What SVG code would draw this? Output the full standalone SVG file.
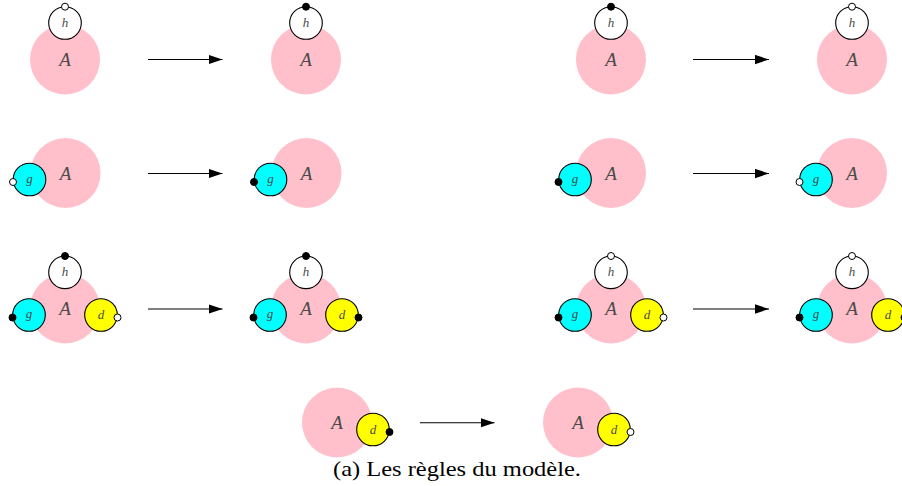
<svg xmlns="http://www.w3.org/2000/svg" width="902" height="486" viewBox="0 0 902 486">
<defs>
<style>
.a{fill:#FFC0CB;stroke:none}
.h{fill:#FFFFFF;stroke:#000;stroke-width:1.1}
.g{fill:#00FFFF;stroke:#000;stroke-width:1.1}
.d{fill:#FFFF00;stroke:#000;stroke-width:1.1}
.on{fill:#000;stroke:#000;stroke-width:1}
.off{fill:#FFF;stroke:#000;stroke-width:1}
.la{font-family:'Liberation Serif','Times New Roman',Times,serif;font-style:italic;font-size:19px;fill:#4a4a4a;text-anchor:middle}
.ls{font-family:'Liberation Serif','Times New Roman',Times,serif;font-style:italic;font-size:13px;fill:#4a4a4a;text-anchor:middle}
.arr{stroke:#000;stroke-width:1.1;fill:none;marker-end:url(#ah)}
.cap{font-family:'Liberation Serif','Times New Roman',Times,serif;font-size:21px;fill:#000;text-anchor:middle}
</style>
<marker id="ah" markerUnits="userSpaceOnUse" markerWidth="14" markerHeight="10" refX="12" refY="4" orient="auto" viewBox="0 0 12 8">
<path d="M0,0 L12,4 L0,8 Z" fill="#000"/>
</marker>
</defs>

<!-- Row 1 -->
<g id="r1c1">
<circle class="a" cx="65" cy="59.5" r="35"/>
<text class="la" x="65" y="66">A</text>
<circle class="h" cx="65" cy="23" r="16.3"/>
<text class="ls" x="65" y="27">h</text>
<circle class="off" cx="65" cy="6.7" r="3.5"/>
</g>
<g id="r1c2">
<circle class="a" cx="306" cy="59.5" r="35"/>
<text class="la" x="306" y="66">A</text>
<circle class="h" cx="306" cy="23" r="16.3"/>
<text class="ls" x="306" y="27">h</text>
<circle class="on" cx="306" cy="6.7" r="3.5"/>
</g>
<g id="r1c3">
<circle class="a" cx="611" cy="59.5" r="35"/>
<text class="la" x="611" y="66">A</text>
<circle class="h" cx="611" cy="23" r="16.3"/>
<text class="ls" x="611" y="27">h</text>
<circle class="on" cx="611" cy="6.7" r="3.5"/>
</g>
<g id="r1c4">
<circle class="a" cx="852" cy="59.5" r="35"/>
<text class="la" x="852" y="66">A</text>
<circle class="h" cx="852" cy="23" r="16.3"/>
<text class="ls" x="852" y="27">h</text>
<circle class="off" cx="852" cy="6.7" r="3.5"/>
</g>

<!-- Row 2 -->
<g id="r2c1">
<circle class="a" cx="65.5" cy="173" r="35"/>
<text class="la" x="65.5" y="179.5">A</text>
<circle class="g" cx="29.5" cy="179.5" r="16.3"/>
<text class="ls" x="29.5" y="182.5">g</text>
<circle class="off" cx="13" cy="182" r="3.5"/>
</g>
<g id="r2c2">
<circle class="a" cx="306.5" cy="173" r="35"/>
<text class="la" x="306.5" y="179.5">A</text>
<circle class="g" cx="270.5" cy="179.5" r="16.3"/>
<text class="ls" x="270.5" y="182.5">g</text>
<circle class="on" cx="254" cy="182" r="3.5"/>
</g>
<g id="r2c3">
<circle class="a" cx="611" cy="173" r="35"/>
<text class="la" x="611" y="179.5">A</text>
<circle class="g" cx="575" cy="179.5" r="16.3"/>
<text class="ls" x="575" y="182.5">g</text>
<circle class="on" cx="558.5" cy="182" r="3.5"/>
</g>
<g id="r2c4">
<circle class="a" cx="852" cy="173" r="35"/>
<text class="la" x="852" y="179.5">A</text>
<circle class="g" cx="816" cy="179.5" r="16.3"/>
<text class="ls" x="816" y="182.5">g</text>
<circle class="off" cx="799.5" cy="182" r="3.5"/>
</g>

<!-- Row 3 -->
<g id="r3c1">
<circle class="a" cx="65" cy="308.5" r="35"/>
<text class="la" x="65" y="315">A</text>
<circle class="h" cx="65" cy="272.3" r="16.3"/>
<text class="ls" x="65" y="276.3">h</text>
<circle class="on" cx="65" cy="256" r="3.5"/>
<circle class="g" cx="29" cy="315" r="16.3"/>
<text class="ls" x="29" y="318">g</text>
<circle class="on" cx="12.5" cy="317.5" r="3.5"/>
<circle class="d" cx="101" cy="315" r="16.3"/>
<text class="ls" x="101" y="319">d</text>
<circle class="off" cx="117.5" cy="317.5" r="3.5"/>
</g>
<g id="r3c2">
<circle class="a" cx="306" cy="308.5" r="35"/>
<text class="la" x="306" y="315">A</text>
<circle class="h" cx="306" cy="272.3" r="16.3"/>
<text class="ls" x="306" y="276.3">h</text>
<circle class="on" cx="306" cy="256" r="3.5"/>
<circle class="g" cx="270" cy="315" r="16.3"/>
<text class="ls" x="270" y="318">g</text>
<circle class="on" cx="253.5" cy="317.5" r="3.5"/>
<circle class="d" cx="342" cy="315" r="16.3"/>
<text class="ls" x="342" y="319">d</text>
<circle class="on" cx="358.5" cy="317.5" r="3.5"/>
</g>
<g id="r3c3">
<circle class="a" cx="611" cy="308.5" r="35"/>
<text class="la" x="611" y="315">A</text>
<circle class="h" cx="611" cy="272.3" r="16.3"/>
<text class="ls" x="611" y="276.3">h</text>
<circle class="off" cx="611" cy="256" r="3.5"/>
<circle class="g" cx="575" cy="315" r="16.3"/>
<text class="ls" x="575" y="318">g</text>
<circle class="on" cx="558.5" cy="317.5" r="3.5"/>
<circle class="d" cx="647" cy="315" r="16.3"/>
<text class="ls" x="647" y="319">d</text>
<circle class="off" cx="663.5" cy="317.5" r="3.5"/>
</g>
<g id="r3c4">
<circle class="a" cx="852" cy="308.5" r="35"/>
<text class="la" x="852" y="315">A</text>
<circle class="h" cx="852" cy="272.3" r="16.3"/>
<text class="ls" x="852" y="276.3">h</text>
<circle class="off" cx="852" cy="256" r="3.5"/>
<circle class="g" cx="816" cy="315" r="16.3"/>
<text class="ls" x="816" y="318">g</text>
<circle class="on" cx="799.5" cy="317.5" r="3.5"/>
<circle class="d" cx="888" cy="315" r="16.3"/>
<text class="ls" x="888" y="319">d</text>
<circle class="on" cx="904.5" cy="317.5" r="3.5"/>
</g>

<!-- Row 4 -->
<g id="r4c1">
<circle class="a" cx="337" cy="422.5" r="35"/>
<text class="la" x="337" y="429">A</text>
<circle class="d" cx="373" cy="429.5" r="16.3"/>
<text class="ls" x="373" y="433.5">d</text>
<circle class="on" cx="389.5" cy="432" r="3.5"/>
</g>
<g id="r4c2">
<circle class="a" cx="578" cy="422.5" r="35"/>
<text class="la" x="578" y="429">A</text>
<circle class="d" cx="614" cy="429.5" r="16.3"/>
<text class="ls" x="614" y="433.5">d</text>
<circle class="off" cx="630.5" cy="432" r="3.5"/>
</g>

<g id="connectors">
<line class="arr" x1="148" y1="59.5" x2="222.5" y2="59.5"/>
<line class="arr" x1="693" y1="59.5" x2="769" y2="59.5"/>
<line class="arr" x1="148" y1="173.5" x2="222.5" y2="173.5"/>
<line class="arr" x1="693" y1="173.5" x2="769" y2="173.5"/>
<line class="arr" x1="148" y1="309" x2="222.5" y2="309"/>
<line class="arr" x1="693" y1="309" x2="769" y2="309"/>
<line class="arr" x1="420" y1="422.7" x2="494.5" y2="422.7"/>
</g>

<text id="caption" class="cap" x="457" y="476.3" textLength="248" lengthAdjust="spacingAndGlyphs">(a) Les règles du modèle.</text>
</svg>
